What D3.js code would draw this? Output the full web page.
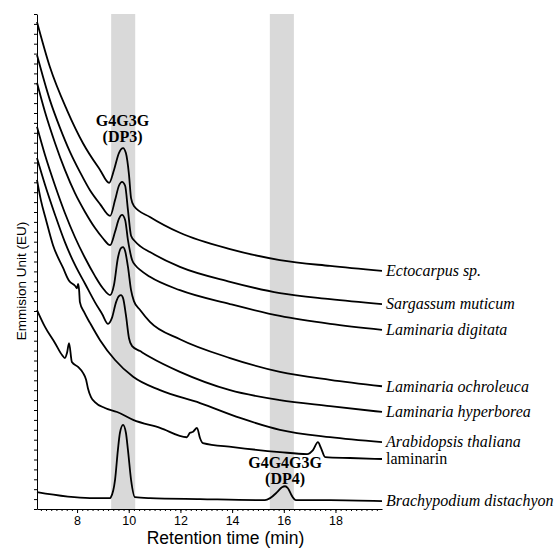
<!DOCTYPE html>
<html>
<head>
<meta charset="utf-8">
<script src="https://cdn.jsdelivr.net/npm/d3@7"></script>
<style>
  body { margin: 0; background: #fff; }
  svg { display: block; }
</style>
</head>
<body>
<svg class="chromato-svg" width="556" height="548"></svg>
<script>
// Chromatograms: [retention time (min), emission (EU, relative)]
var ectocarpus = [[6.45, 98.4], [6.95, 89.3], [7.61, 80.6], [8.23, 73.9], [8.89, 68.5], [9.24, 65.9], [9.43, 68.5], [9.62, 71.9], [9.78, 72.9], [9.89, 71.9], [10.01, 67.5], [10.09, 62.8], [10.20, 61.2], [10.82, 59.0], [11.98, 55.8], [13.92, 52.5], [15.85, 50.3], [17.79, 49.1], [19.80, 48.1]];
var sargassum = [[6.45, 91.7], [6.95, 82.6], [7.34, 77.0], [7.73, 72.1], [8.11, 68.1], [8.50, 64.4], [8.89, 61.6], [9.28, 59.2], [9.47, 62.4], [9.62, 65.3], [9.74, 66.1], [9.86, 65.3], [9.97, 60.4], [10.09, 55.2], [10.24, 54.1], [10.44, 53.1], [10.82, 51.9], [11.98, 48.9], [13.92, 45.9], [15.85, 43.6], [17.79, 42.4], [19.80, 41.4]];
var digitata = [[6.45, 86.1], [6.76, 80.2], [7.15, 73.9], [7.53, 68.5], [7.92, 63.8], [8.31, 60.0], [8.69, 56.8], [9.00, 54.7], [9.28, 53.3], [9.47, 56.0], [9.62, 58.6], [9.74, 59.4], [9.86, 58.4], [9.97, 54.3], [10.13, 50.3], [10.28, 49.1], [10.44, 48.3], [10.82, 46.9], [11.98, 44.2], [13.92, 41.4], [15.85, 39.0], [17.79, 37.4], [19.80, 36.2]];
var ochroleuca = [[6.45, 77.2], [6.76, 71.5], [7.15, 65.3], [7.53, 59.8], [7.92, 54.9], [8.31, 50.7], [8.69, 47.1], [9.00, 44.6], [9.28, 43.2], [9.43, 45.3], [9.58, 50.7], [9.70, 52.7], [9.78, 52.9], [9.86, 52.1], [9.97, 48.9], [10.09, 44.2], [10.20, 42.0], [10.44, 40.2], [10.82, 37.8], [11.98, 34.3], [13.92, 30.5], [15.85, 27.7], [17.79, 26.1], [19.80, 24.8]];
var hyperborea = [[6.45, 70.9], [6.76, 65.5], [7.15, 59.4], [7.53, 53.9], [7.92, 49.3], [8.31, 45.5], [8.69, 41.8], [8.97, 39.4], [9.20, 37.4], [9.35, 38.6], [9.51, 41.8], [9.62, 43.0], [9.70, 43.2], [9.78, 42.6], [9.89, 39.2], [10.01, 34.5], [10.13, 32.9], [10.44, 31.9], [10.82, 30.7], [11.98, 27.7], [13.92, 24.0], [15.85, 22.0], [17.79, 20.8], [19.80, 19.6]];
var arabidopsis = [[6.45, 66.5], [6.60, 62.4], [6.80, 58.4], [7.07, 53.3], [7.46, 48.7], [7.69, 46.1], [7.92, 45.1], [8.00, 44.6], [8.04, 45.5], [8.08, 44.2], [8.11, 41.8], [8.27, 39.8], [8.50, 37.6], [8.89, 34.1], [9.47, 30.1], [10.17, 26.7], [11.21, 24.0], [12.76, 21.4], [14.31, 18.4], [15.85, 16.0], [17.79, 14.5], [19.80, 13.5]];
var laminarin = [[6.45, 40.2], [6.76, 36.8], [7.15, 33.5], [7.42, 31.1], [7.53, 30.5], [7.61, 31.5], [7.69, 33.5], [7.80, 29.7], [8.04, 28.7], [8.23, 27.5], [8.35, 26.1], [8.42, 24.4], [8.54, 22.6], [8.69, 21.6], [9.08, 20.4], [9.55, 19.6], [10.17, 18.0], [11.21, 16.4], [12.25, 14.5], [12.37, 15.4], [12.49, 15.6], [12.64, 16.4], [12.76, 14.3], [12.87, 13.3], [14.04, 12.5], [15.85, 11.5], [16.90, 11.1], [17.13, 11.9], [17.32, 13.5], [17.44, 12.3], [17.60, 10.5], [18.56, 10.3], [19.80, 10.1]];
var brachypodium = [[6.45, 3.4], [8.50, 2.2], [9.28, 2.2], [9.31, 2.4], [9.47, 5.9], [9.58, 11.9], [9.66, 15.4], [9.78, 17.0], [9.89, 15.4], [9.97, 11.9], [10.09, 5.9], [10.24, 2.4], [10.82, 2.2], [12.76, 2.0], [15.27, 1.8], [15.47, 2.2], [15.74, 3.4], [15.93, 4.4], [16.05, 4.6], [16.16, 4.2], [16.32, 2.6], [16.47, 1.8], [17.79, 1.8], [19.80, 1.6]];

var traces = [ectocarpus, sargassum, digitata, ochroleuca, hyperborea, arabidopsis, laminarin, brachypodium];
var speciesNames = ["Ectocarpus sp.", "Sargassum muticum", "Laminaria digitata", "Laminaria ochroleuca", "Laminaria hyperborea", "Arabidopsis thaliana", "laminarin", "Brachypodium distachyon"];
var speciesItalic = [true, true, true, true, true, true, false, true];

var xTicks = [8, 10, 12, 14, 16, 18];
var dpBands = [[9.32, 10.25], [15.46, 16.39]];
var dpNames = [["G4G3G", "(DP3)"], ["G4G4G3G", "(DP4)"]];
var dpPeakTimes = [9.76, 16.05];
var dpTraceIndex = [0, 7];

var svg = d3.select(".chromato-svg");

// Scales
var x = d3.scaleLinear().domain([6.45, 19.8]).range([37, 382]);
var y = d3.scaleLinear().domain([0, 100]).range([509, 14]);

// Grey bands for DP3 / DP4
svg.selectAll("rect.band")
    .data(dpBands)
    .enter()
    .append("rect")
    .attr("class", "band")
    .attr("x", d => x(d[0]))
    .attr("width", d => x(d[1]) - x(d[0]))
    .attr("y", y(100))
    .attr("height", y(0) - y(100))
    .attr("fill", "#d9d9d9");

// Axes
var xMinor = svg.append("g")
    .attr("transform", `translate(0, ${y(0)})`)
    .call(d3.axisBottom(x).tickValues(d3.range(6.6, 19.75, 0.2)).tickSize(2).tickSizeOuter(0).tickFormat(""));
xMinor.select(".domain").remove();

var xAxis = svg.append("g")
    .attr("transform", `translate(0, ${y(0)})`)
    .call(d3.axisBottom(x).tickValues(xTicks).tickSize(4).tickSizeOuter(0).tickPadding(3.5).tickFormat(d3.format("d")));
xAxis.selectAll("text")
    .attr("font-family", "'Liberation Sans', Arial, sans-serif")
    .attr("font-size", 12.5)
    .attr("fill", "#000");

var yAxis = svg.append("g")
    .attr("transform", `translate(${x(6.45)}, 0)`)
    .call(d3.axisLeft(y).tickValues(d3.range(0, 100.1, 2)).tickSize(3).tickSizeOuter(0).tickFormat(""));

svg.selectAll(".domain, .tick line").attr("stroke", "#000");

// Traces
var line = d3.line()
    .x(d => x(d[0]))
    .y(d => y(d[1]))
    .curve(d3.curveMonotoneX);

svg.selectAll("path.trace")
    .data(traces)
    .enter()
    .append("path")
    .attr("class", "trace")
    .attr("d", line)
    .attr("fill", "none")
    .attr("stroke", "#000")
    .attr("stroke-width", 1.8)
    .attr("stroke-linejoin", "round");

// Species names at the end of each trace
svg.selectAll("text.species")
    .data(traces)
    .enter()
    .append("text")
    .attr("class", "species")
    .attr("x", d => x(d[d.length - 1][0]) + 4)
    .attr("y", d => y(d[d.length - 1][1]))
    .attr("dy", "0.33em")
    .attr("font-family", "'Liberation Serif', 'Times New Roman', serif")
    .attr("font-size", 16)
    .attr("font-style", (d, i) => speciesItalic[i] ? "italic" : "normal")
    .text((d, i) => speciesNames[i]);

// Peak annotations
dpNames.forEach(function(names, i) {
    var peak = d3.max(traces[dpTraceIndex[i]].filter(p => Math.abs(p[0] - dpPeakTimes[i]) < 0.3), p => p[1]);
    var base = y(peak) - (i === 0 ? 6 : 2);
    var g = svg.append("text")
        .attr("x", x(dpPeakTimes[i]))
        .attr("y", base - 16)
        .attr("text-anchor", "middle")
        .attr("font-family", "'Liberation Serif', 'Times New Roman', serif")
        .attr("font-weight", "bold")
        .attr("font-size", 16);
    g.append("tspan").attr("x", x(dpPeakTimes[i])).text(names[0]);
    g.append("tspan").attr("x", x(dpPeakTimes[i])).attr("dy", 16).text(names[1]);
});

// Axis titles
svg.append("text")
    .attr("x", (x.range()[0] + x.range()[1]) / 2 + 16)
    .attr("y", 544)
    .attr("text-anchor", "middle")
    .attr("font-family", "'Liberation Sans', Arial, sans-serif")
    .attr("font-size", 17.5)
    .text("Retention time (min)");

svg.append("text")
    .attr("transform", "translate(26, 281) rotate(-90)")
    .attr("text-anchor", "middle")
    .attr("font-family", "'Liberation Sans', Arial, sans-serif")
    .attr("font-size", 13.5)
    .text("Emmision Unit (EU)");
</script>
</body>
</html>
